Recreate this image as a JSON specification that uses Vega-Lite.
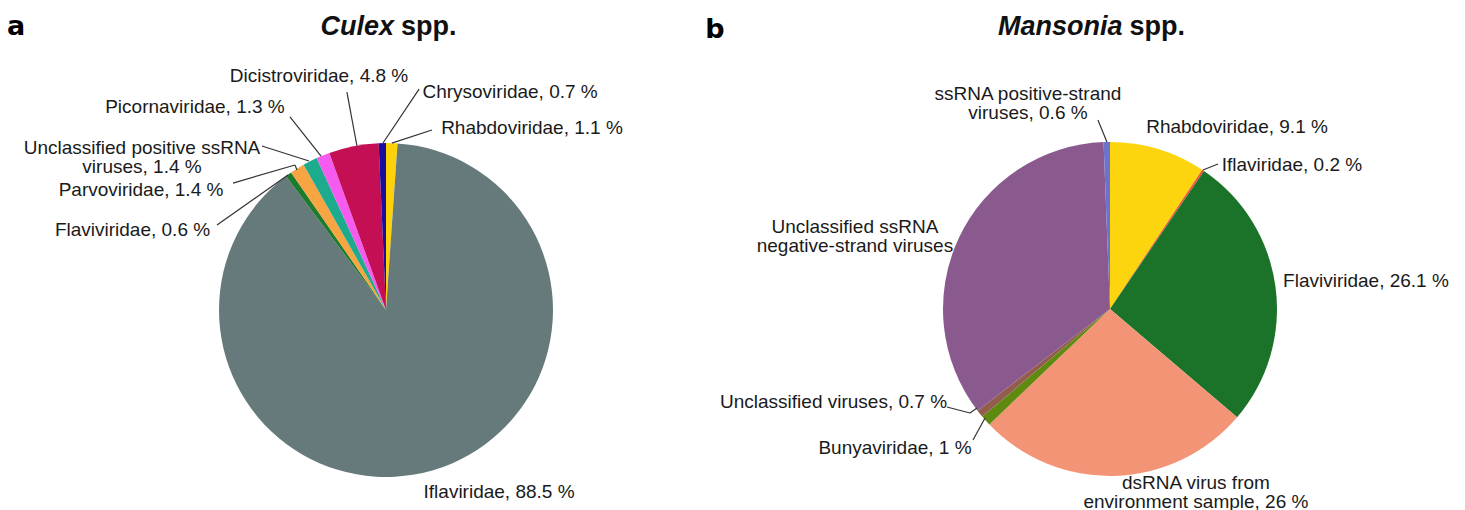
{
  "$schema": "https://vega.github.io/schema/vega-lite/v6.json",
  "width": 1465,
  "height": 510,
  "autosize": {"type": "none"},
  "padding": 0,
  "background": "white",
  "config": {"view": {"stroke": null}},
  "datasets": {
    "slices": [
      {"species": "Culex", "idx": 1, "family": "Rhabdoviridae", "pct": 1.1},
      {"species": "Culex", "idx": 2, "family": "Iflaviridae", "pct": 88.5},
      {"species": "Culex", "idx": 3, "family": "Flaviviridae", "pct": 0.6},
      {"species": "Culex", "idx": 4, "family": "Parvoviridae", "pct": 1.4},
      {"species": "Culex", "idx": 5, "family": "Unclassified positive ssRNA viruses", "pct": 1.4},
      {"species": "Culex", "idx": 6, "family": "Picornaviridae", "pct": 1.3},
      {"species": "Culex", "idx": 7, "family": "Dicistroviridae", "pct": 4.8},
      {"species": "Culex", "idx": 8, "family": "Chrysoviridae", "pct": 0.7},
      {"species": "Mansonia", "idx": 1, "family": "Rhabdoviridae", "pct": 9.1},
      {"species": "Mansonia", "idx": 2, "family": "Iflaviridae", "pct": 0.2},
      {"species": "Mansonia", "idx": 3, "family": "Flaviviridae", "pct": 26.1},
      {"species": "Mansonia", "idx": 4, "family": "dsRNA virus from environment sample", "pct": 26},
      {"species": "Mansonia", "idx": 5, "family": "Bunyaviridae", "pct": 1},
      {"species": "Mansonia", "idx": 6, "family": "Unclassified viruses", "pct": 0.7},
      {"species": "Mansonia", "idx": 7, "family": "Unclassified ssRNA negative-strand viruses", "pct": 34},
      {"species": "Mansonia", "idx": 8, "family": "ssRNA positive-strand viruses", "pct": 0.6}
    ],
    "labels": [
      {"label": "Dicistroviridae, 4.8 %", "x": -0.401, "y": 1.401},
      {"label": "Chrysoviridae, 0.7 %", "x": 0.743, "y": 1.305},
      {"label": "Rhabdoviridae, 1.1 %", "x": 0.874, "y": 1.09},
      {"label": "Picornaviridae, 1.3 %", "x": -1.144, "y": 1.216},
      {"label": ["Unclassified positive ssRNA", "viruses, 1.4 %"], "x": -1.461, "y": 0.97},
      {"label": "Parvoviridae, 1.4 %", "x": -1.467, "y": 0.719},
      {"label": "Flaviviridae, 0.6 %", "x": -1.518, "y": 0.479},
      {"label": "Iflaviridae, 88.5 %", "x": 0.677, "y": -1.09},
      {"label": ["ssRNA positive-strand", "viruses, 0.6 %"], "x": 3.844, "y": 1.293},
      {"label": "Rhabdoviridae, 9.1 %", "x": 5.096, "y": 1.096},
      {"label": "Iflaviridae, 0.2 %", "x": 5.425, "y": 0.868},
      {"label": "Flaviviridae, 26.1 %", "x": 5.868, "y": 0.174},
      {"label": ["dsRNA virus from", "environment sample, 26 %"], "x": 4.85, "y": -1.036},
      {"label": "Bunyaviridae, 1 %", "x": 3.048, "y": -0.826},
      {"label": "Unclassified viruses, 0.7 %", "x": 2.68, "y": -0.551},
      {"label": ["Unclassified ssRNA", "negative-strand viruses"], "x": 2.808, "y": 0.497}
    ],
    "leaders": [
      {"x": -0.234, "y": 1.305, "x2": -0.174, "y2": 0.982},
      {"x": 0.198, "y": 1.323, "x2": -0.018, "y2": 1.0},
      {"x": 0.275, "y": 1.078, "x2": 0.035, "y2": 0.999},
      {"x": -0.575, "y": 1.156, "x2": -0.389, "y2": 0.922},
      {"x": -0.743, "y": 0.982, "x2": -0.461, "y2": 0.892},
      {"x": -0.916, "y": 0.76, "x2": -0.545, "y2": 0.868},
      {"x": -0.545, "y": 0.868, "x2": -0.533, "y2": 0.838},
      {"x": -1.012, "y": 0.509, "x2": -0.587, "y2": 0.808},
      {"x": 4.263, "y": 1.138, "x2": 4.317, "y2": 1.006},
      {"x": 4.982, "y": 0.874, "x2": 4.892, "y2": 0.838},
      {"x": 3.515, "y": -0.778, "x2": 3.587, "y2": -0.647},
      {"x": 3.359, "y": -0.581, "x2": 3.497, "y2": -0.617},
      {"x": 3.497, "y": -0.617, "x2": 3.539, "y2": -0.587}
    ]
  },
  "layer": [
    {
      "data": {"name": "slices"},
      "transform": [{"filter": "datum.species === 'Culex'"}],
      "mark": {"type": "arc", "outerRadius": 167},
      "encoding": {
        "x": {"datum": 0, "type": "quantitative", "scale": {"domain": [-2.3114, 6.4611], "nice": false, "zero": false}, "axis": null},
        "y": {"datum": 0, "type": "quantitative", "scale": {"domain": [-1.1976, 1.8563], "nice": false, "zero": false}, "axis": null},
        "theta": {"field": "pct", "type": "quantitative", "stack": true},
        "order": {"field": "idx", "type": "quantitative"},
        "color": {
          "field": "family", "type": "nominal", "legend": null,
          "scale": {
            "domain": ["Rhabdoviridae", "Iflaviridae", "Flaviviridae", "Parvoviridae", "Unclassified positive ssRNA viruses", "Picornaviridae", "Dicistroviridae", "Chrysoviridae"],
            "range": ["#FDD20A", "#667A7B", "#1E7B2E", "#F7A442", "#1EAB8D", "#F65BF0", "#C50F55", "#1A0E9A"]
          }
        }
      }
    },
    {
      "data": {"name": "slices"},
      "transform": [{"filter": "datum.species === 'Mansonia'"}],
      "mark": {"type": "arc", "outerRadius": 167},
      "encoding": {
        "x": {"datum": 4.3353, "type": "quantitative", "scale": {"domain": [-2.3114, 6.4611], "nice": false, "zero": false}, "axis": null},
        "y": {"datum": 0.006, "type": "quantitative", "scale": {"domain": [-1.1976, 1.8563], "nice": false, "zero": false}, "axis": null},
        "theta": {"field": "pct", "type": "quantitative", "stack": true},
        "order": {"field": "idx", "type": "quantitative"},
        "color": {
          "field": "family", "type": "nominal", "legend": null,
          "scale": {
            "domain": ["Rhabdoviridae", "Iflaviridae", "Flaviviridae", "dsRNA virus from environment sample", "Bunyaviridae", "Unclassified viruses", "Unclassified ssRNA negative-strand viruses", "ssRNA positive-strand viruses"],
            "range": ["#FDD50F", "#E8553A", "#1A7329", "#F49476", "#5E8A10", "#935D4D", "#8A5A8F", "#6C73CC"]
          }
        }
      }
    },
    {
      "data": {"name": "leaders"},
      "mark": {"type": "rule", "stroke": "#333333", "strokeWidth": 1.2},
      "encoding": {
        "x": {"field": "x", "type": "quantitative", "scale": {"domain": [-2.3114, 6.4611], "nice": false, "zero": false}, "axis": null},
        "y": {"field": "y", "type": "quantitative", "scale": {"domain": [-1.1976, 1.8563], "nice": false, "zero": false}, "axis": null},
        "x2": {"field": "x2"},
        "y2": {"field": "y2"}
      }
    },
    {
      "data": {"name": "labels"},
      "mark": {"type": "text", "font": "Liberation Sans", "fontSize": 19, "lineHeight": 19, "align": "center", "baseline": "middle", "fill": "#1a1a1a"},
      "encoding": {
        "x": {"field": "x", "type": "quantitative", "scale": {"domain": [-2.3114, 6.4611], "nice": false, "zero": false}, "axis": null},
        "y": {"field": "y", "type": "quantitative", "scale": {"domain": [-1.1976, 1.8563], "nice": false, "zero": false}, "axis": null},
        "text": {"field": "label"}
      }
    },
    {
      "data": {"values": [{"t": "Culex", "x": 0.048, "y": 1.695}, {"t": "Mansonia", "x": 4.41, "y": 1.695}]},
      "mark": {"type": "text", "font": "Liberation Sans", "fontSize": 27, "fontWeight": "bold", "fontStyle": "italic", "align": "right", "baseline": "middle", "fill": "#111111"},
      "encoding": {
        "x": {"field": "x", "type": "quantitative", "scale": {"domain": [-2.3114, 6.4611], "nice": false, "zero": false}, "axis": null},
        "y": {"field": "y", "type": "quantitative", "scale": {"domain": [-1.1976, 1.8563], "nice": false, "zero": false}, "axis": null},
        "text": {"field": "t"}
      }
    },
    {
      "data": {"values": [{"t": "spp.", "x": 0.09, "y": 1.695}, {"t": "spp.", "x": 4.452, "y": 1.695}]},
      "mark": {"type": "text", "font": "Liberation Sans", "fontSize": 27, "fontWeight": "bold", "align": "left", "baseline": "middle", "fill": "#111111"},
      "encoding": {
        "x": {"field": "x", "type": "quantitative", "scale": {"domain": [-2.3114, 6.4611], "nice": false, "zero": false}, "axis": null},
        "y": {"field": "y", "type": "quantitative", "scale": {"domain": [-1.1976, 1.8563], "nice": false, "zero": false}, "axis": null},
        "text": {"field": "t"}
      }
    },
    {
      "data": {"values": [{"t": "a", "x": -2.27, "y": 1.695}, {"t": "b", "x": 1.912, "y": 1.677}]},
      "mark": {"type": "text", "font": "DejaVu Sans", "fontSize": 27, "fontWeight": "bold", "align": "left", "baseline": "middle", "fill": "#000000"},
      "encoding": {
        "x": {"field": "x", "type": "quantitative", "scale": {"domain": [-2.3114, 6.4611], "nice": false, "zero": false}, "axis": null},
        "y": {"field": "y", "type": "quantitative", "scale": {"domain": [-1.1976, 1.8563], "nice": false, "zero": false}, "axis": null},
        "text": {"field": "t"}
      }
    }
  ],
  "resolve": {"scale": {"theta": "independent", "color": "independent"}}
}
